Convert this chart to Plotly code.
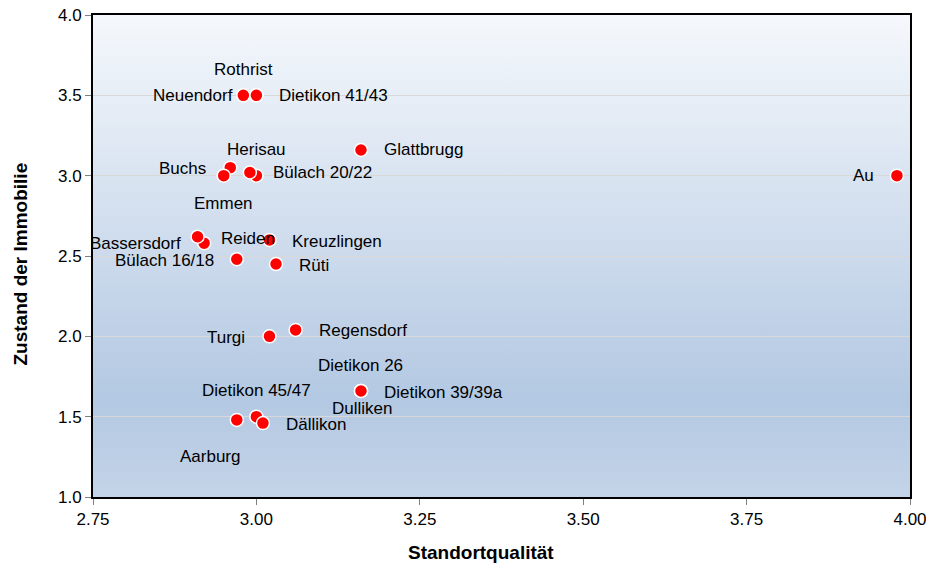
import plotly.graph_objects as go

# Data
names = ["Rothrist", "Neuendorf", "Dietikon 41/43", "Glattbrugg", "Herisau", "Buchs",
         "Bülach 20/22", "Emmen", "Bassersdorf", "Reiden", "Kreuzlingen", "Bülach 16/18",
         "Rüti", "Turgi", "Regensdorf", "Dietikon 26", "Dietikon 39/39a", "Dulliken",
         "Dietikon 45/47", "Dällikon", "Aarburg", "Au"]
standort = [2.98, 3.00, 3.00, 3.16, 3.00, 2.96,
            2.99, 2.95, 2.92, 2.91, 3.02, 2.97,
            3.03, 3.02, 3.06, 3.16, 3.16, 3.16,
            3.00, 3.01, 2.97, 3.98]
zustand = [3.50, 3.50, 3.50, 3.16, 3.00, 3.05,
           3.02, 3.00, 2.58, 2.62, 2.60, 2.48,
           2.45, 2.00, 2.04, 1.66, 1.66, 1.66,
           1.50, 1.46, 1.48, 3.00]
x_ticks = [2.75, 3.00, 3.25, 3.50, 3.75, 4.00]
y_ticks = [1.0, 1.5, 2.0, 2.5, 3.0, 3.5, 4.0]
x_title = "Standortqualität"
y_title = "Zustand der Immobilie"

# Label placement (anchor, x shift px, y shift px)
label_pos = {
    "Rothrist": ("center", 0, 26), "Neuendorf": ("right", -21, 0),
    "Dietikon 41/43": ("left", 21, 0), "Glattbrugg": ("left", 21, 0),
    "Herisau": ("center", 0, 26), "Buchs": ("right", -22, -1),
    "Bülach 20/22": ("left", 21, 0), "Emmen": ("center", 0, -28),
    "Bassersdorf": ("right", -21, 0), "Reiden": ("left", 21, -2),
    "Kreuzlingen": ("left", 21, -2), "Bülach 16/18": ("right", -21, -1),
    "Rüti": ("left", 21, -1), "Turgi": ("right", -22, -1),
    "Regensdorf": ("left", 21, -1), "Dietikon 26": ("center", 0, 25),
    "Dietikon 39/39a": ("left", 21, -2), "Dulliken": ("center", 1, -18),
    "Dietikon 45/47": ("center", 0, 26), "Dällikon": ("left", 21, -1),
    "Aarburg": ("center", -27, -37), "Au": ("right", -21, 0),
}

FONT = "Liberation Sans, Arial, sans-serif"

fig = go.Figure()
fig.add_trace(go.Scatter(
    x=standort, y=zustand, mode="markers", text=names,
    marker=dict(color="#FF0000", size=13, line=dict(color="white", width=1.5)),
    hoverinfo="text+x+y", showlegend=False, cliponaxis=False,
))

for n, xv, yv in zip(names, standort, zustand):
    anc, dx, dy = label_pos[n]
    fig.add_annotation(x=xv, y=yv, xref="x", yref="y", text=n, showarrow=False,
                       xanchor=anc, yanchor="middle", xshift=dx, yshift=dy,
                       font=dict(family=FONT, size=17, color="black"))

# axis titles
fig.add_annotation(x=0.475, y=-0.116, xref="paper", yref="paper", text="<b>%s</b>" % x_title,
                   showarrow=False, xanchor="center", yanchor="middle",
                   font=dict(family=FONT, size=19, color="black"))
fig.add_annotation(x=-0.089, y=0.483, xref="paper", yref="paper", text="<b>%s</b>" % y_title,
                   showarrow=False, xanchor="center", yanchor="middle", textangle=-90,
                   font=dict(family=FONT, size=19, color="black"))

grad_svg = ("data:image/svg+xml;utf8,"
            "<svg xmlns='http://www.w3.org/2000/svg' width='100' height='100' preserveAspectRatio='none'>"
            "<defs><linearGradient id='g' x1='0' y1='0' x2='0' y2='1'>"
            "<stop offset='0' stop-color='%23F5F8FC'/>"
            "<stop offset='0.8' stop-color='%23B3C8E2'/>"
            "<stop offset='1' stop-color='%23C4D4E8'/>"
            "</linearGradient></defs>"
            "<rect width='100' height='100' fill='url(%23g)'/></svg>")

fig.update_layout(
    width=926, height=567,
    margin=dict(l=93, r=16, t=15, b=70, autoexpand=False),
    paper_bgcolor="white", plot_bgcolor="rgba(0,0,0,0)",
    font=dict(family=FONT, size=17, color="black"),
    images=[dict(source=grad_svg, xref="paper", yref="paper", x=0, y=1,
                 sizex=1, sizey=1, sizing="stretch", layer="below",
                 xanchor="left", yanchor="top")],
    xaxis=dict(range=[2.75, 4.0], tickvals=x_ticks, tickformat=".2f", automargin=False,
               ticklabeloverflow="allow",
               showgrid=False, zeroline=False, showline=True, linecolor="black",
               linewidth=2, mirror=True, ticks="outside", ticklen=6, tickcolor="#808080",
               tickfont=dict(family=FONT, size=17)),
    yaxis=dict(range=[1.0, 4.0], tickvals=y_ticks, tickformat=".1f", automargin=False,
               ticklabeloverflow="allow",
               showgrid=True, gridcolor="#D8D8D8", gridwidth=1, zeroline=False,
               showline=True, linecolor="black", linewidth=2, mirror=True,
               ticks="outside", ticklen=6, tickcolor="#808080",
               tickfont=dict(family=FONT, size=17)),
)

fig.write_html("out.html", config={"displayModeBar": False},
               post_script="document.body.style.margin='0';document.body.style.overflow='hidden';")
